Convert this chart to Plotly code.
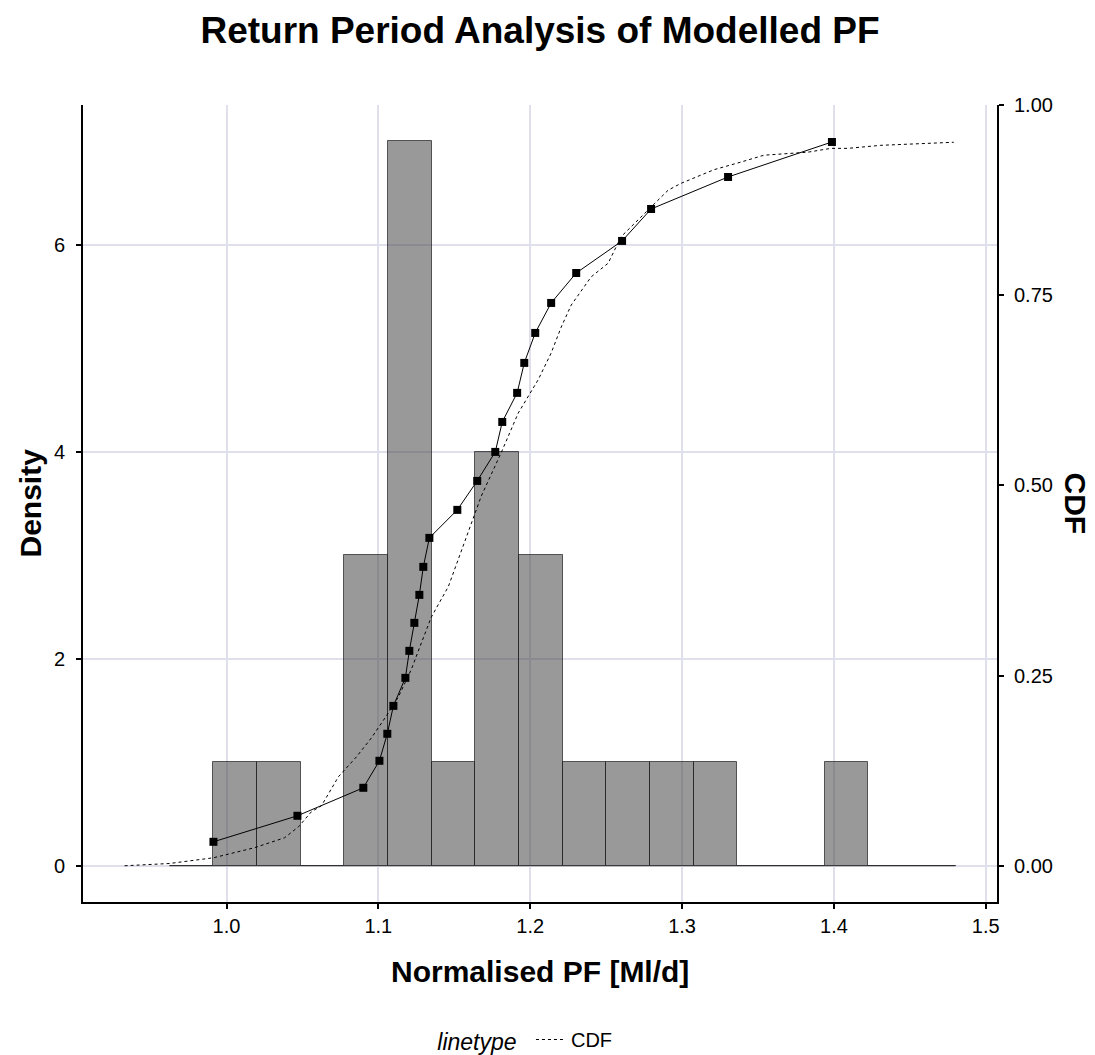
import plotly.graph_objects as go

# ---- data ----
# sorted modelled PF values (x) and their plotting-position CDF values
pf_values = [0.9914, 1.0467, 1.0901, 1.1007, 1.1059, 1.1099, 1.1178, 1.1204,
             1.1237, 1.1270, 1.1296, 1.1336, 1.1520, 1.1651, 1.1770, 1.1816,
             1.1914, 1.1961, 1.2033, 1.2138, 1.2303, 1.2605, 1.2796, 1.3303,
             1.3987]
pf_cdf = [0.0315, 0.0657, 0.1025, 0.1380, 0.1735, 0.2102, 0.2470, 0.2825,
          0.3193, 0.3561, 0.3929, 0.4310, 0.4678, 0.5059, 0.5440, 0.5834,
          0.6216, 0.6610, 0.7004, 0.7398, 0.7792, 0.8213, 0.8633, 0.9054,
          0.9514]

# histogram bins
bin_edges = [0.9626, 0.99135, 1.0201, 1.04885, 1.0776, 1.10635, 1.1351,
             1.16385, 1.1926, 1.22135, 1.2501, 1.27885, 1.3076, 1.33635,
             1.3651, 1.39385, 1.4226, 1.45135, 1.4801]
bin_counts = [0, 1, 1, 0, 3, 7, 1, 4, 3, 1, 1, 1, 1, 0, 0, 1, 0, 0]

# smooth (fitted) CDF curve
curve_x = [0.9329, 0.9625, 0.9914, 1.0184, 1.0382, 1.0474, 1.0559, 1.0625,
           1.0737, 1.0855, 1.0954, 1.1053, 1.1132, 1.1217, 1.1270, 1.1349,
           1.1461, 1.1566, 1.1678, 1.1809, 1.1921, 1.2053, 1.2138, 1.2204,
           1.2270, 1.2401, 1.2513, 1.2599, 1.2711, 1.2816, 1.2908, 1.2993,
           1.3211, 1.3388, 1.3539, 1.3829, 1.3980, 1.4092, 1.4309, 1.4789]
curve_cdf = [0.000, 0.003, 0.0105, 0.0237, 0.0368, 0.0512, 0.0710, 0.0788,
             0.117, 0.143, 0.168, 0.197, 0.222, 0.258, 0.286, 0.327,
             0.367, 0.424, 0.486, 0.543, 0.595, 0.639, 0.674, 0.708,
             0.737, 0.774, 0.792, 0.827, 0.849, 0.871, 0.888, 0.897,
             0.915, 0.925, 0.934, 0.938, 0.943, 0.943, 0.947, 0.951]

x_ticks = [1.0, 1.1, 1.2, 1.3, 1.4, 1.5]
x_ticklabels = ["1.0", "1.1", "1.2", "1.3", "1.4", "1.5"]
y_ticks = [0, 2, 4, 6]
y2_ticks = [0, 0.25, 0.5, 0.75, 1.0]
y2_ticklabels = ["0.00", "0.25", "0.50", "0.75", "1.00"]

FONT = "Liberation Sans, Arial, sans-serif"
GRID = "#E0E0EC"
y_top = 7.35
y_bot = -0.35

bin_width = bin_edges[1] - bin_edges[0]

fig = go.Figure()

# zero baseline of the histogram (empty bins outline)
fig.add_trace(go.Scatter(
    x=[bin_edges[0], bin_edges[-1]], y=[0, 0], mode="lines",
    line=dict(color="rgba(50,50,50,0.8)", width=1),
    showlegend=False, hoverinfo="skip"))

fig.add_trace(go.Bar(
    x=bin_edges[:-1], y=bin_counts, width=bin_width, offset=0,
    marker=dict(color="rgba(60,60,60,0.52)",
                line=dict(color="rgba(30,30,30,0.7)", width=1)),
    showlegend=False))

fig.add_trace(go.Scatter(
    x=curve_x, y=curve_cdf, yaxis="y2", mode="lines", name="CDF",
    line=dict(color="black", width=1, dash="3px,3px")))

fig.add_trace(go.Scatter(
    x=pf_values, y=pf_cdf, yaxis="y2", mode="lines+markers",
    line=dict(color="black", width=1),
    marker=dict(symbol="square", size=8, color="black"),
    showlegend=False))

axis_common = dict(
    showline=True, linecolor="black", linewidth=2,
    ticks="outside", ticklen=5, tickwidth=2, tickcolor="black",
    zeroline=False, tickfont=dict(family=FONT, size=20, color="black"))

fig.update_layout(
    width=1095, height=1055,
    margin=dict(l=83, r=98, t=105, b=153, autoexpand=False),
    plot_bgcolor="white", paper_bgcolor="white",
    font=dict(family=FONT, color="black"),
    bargap=0,
    title=dict(text="<b>Return Period Analysis of Modelled PF</b>",
               x=0.5, xref="paper", xanchor="center",
               y=1 - 30 / 1055, yanchor="middle",
               font=dict(family=FONT, size=37, color="black")),
    xaxis=dict(range=[0.9055, 1.5074], tickvals=x_ticks, ticktext=x_ticklabels,
               showgrid=True, gridcolor=GRID, gridwidth=2,
               ticklabelstandoff=0, **axis_common),
    yaxis=dict(range=[y_bot, y_top], tickvals=y_ticks,
               showgrid=True, gridcolor=GRID, gridwidth=2,
               ticklabelstandoff=7, **axis_common),
    yaxis2=dict(range=[y_bot / y_top, 1.0], tickvals=y2_ticks,
                ticktext=y2_ticklabels, overlaying="y", side="right",
                showgrid=False, ticklabelstandoff=6, **axis_common),
    legend=dict(orientation="h", x=0.485, xanchor="center",
                y=-(1040 - 902) / 797, yanchor="middle",
                title=dict(text="linetype ",
                           font=dict(family=FONT, size=23, style="italic")),
                font=dict(family=FONT, size=20)),
    annotations=[
        dict(text="<b>Normalised PF [Ml/d]</b>", xref="paper", yref="paper",
             x=0.5, y=-(971 - 902) / 797, xanchor="center", yanchor="middle",
             showarrow=False, font=dict(family=FONT, size=30, color="black")),
        dict(text="<b>Density</b>", xref="paper", yref="paper",
             x=(30 - 83) / 914, y=0.5, xanchor="center", yanchor="middle",
             textangle=-90, showarrow=False,
             font=dict(family=FONT, size=30, color="black")),
        dict(text="<b>CDF</b>", xref="paper", yref="paper",
             x=(1075 - 83) / 914, y=0.5, xanchor="center", yanchor="middle",
             textangle=90, showarrow=False,
             font=dict(family=FONT, size=30, color="black")),
    ],
)

fig.write_html("out.html")
